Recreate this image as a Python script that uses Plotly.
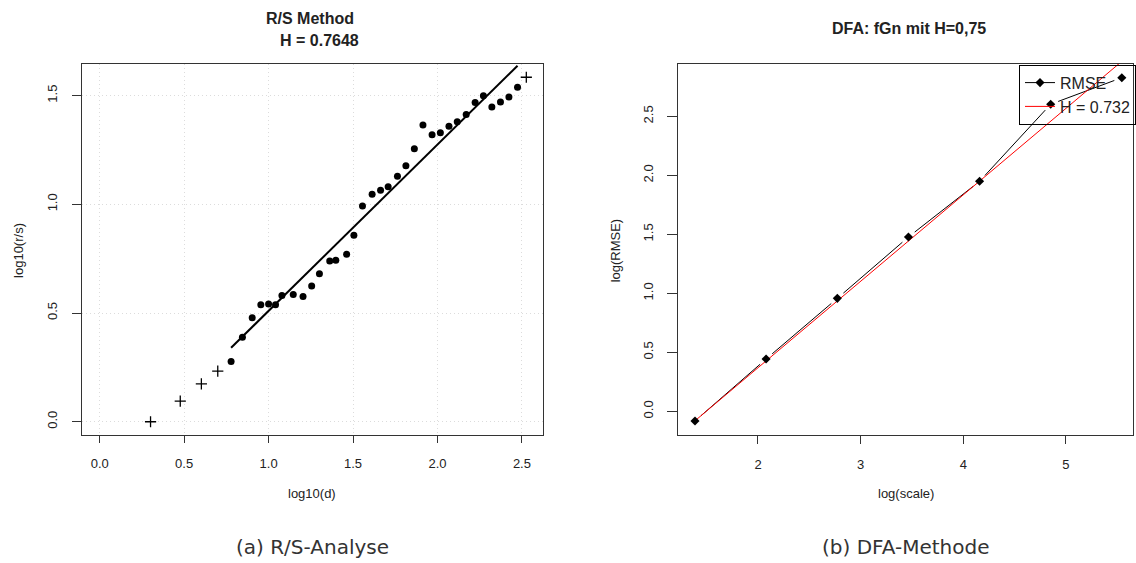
import math
import plotly.graph_objects as go

# ---------------- data: R/S analysis ----------------
rs_cross_x = [0.301, 0.477, 0.602, 0.699, 2.526]
rs_cross_y = [0.0, 0.095, 0.174, 0.233, 1.584]
rs_dot_x = [0.778, 0.845, 0.903, 0.954, 1.000, 1.041, 1.079, 1.146, 1.204, 1.255,
            1.301, 1.362, 1.398, 1.462, 1.505, 1.556, 1.613, 1.663, 1.708, 1.763,
            1.813, 1.863, 1.914, 1.968, 2.017, 2.068, 2.117, 2.170, 2.223, 2.272,
            2.322, 2.373, 2.423, 2.474]
rs_dot_y = [0.277, 0.389, 0.478, 0.538, 0.541, 0.538, 0.581, 0.585, 0.576, 0.624,
            0.680, 0.739, 0.742, 0.770, 0.857, 0.992, 1.046, 1.065, 1.081, 1.129,
            1.177, 1.255, 1.364, 1.320, 1.329, 1.359, 1.379, 1.413, 1.468, 1.499,
            1.447, 1.470, 1.493, 1.538]
rs_H = 0.7648
rs_intercept = -0.255

# ---------------- data: DFA ----------------
dfa_x = [1.386, 2.079, 2.773, 3.466, 4.159, 4.852, 5.545]
dfa_y = [-0.082, 0.443, 0.957, 1.477, 1.949, 2.602, 2.827]
dfa_H = 0.7325
dfa_intercept = -1.096

# ---------------- layout geometry ----------------
W, H = 1136, 563
L_X0, L_X1 = 82.7, 544.3
R_X0, R_X1 = 680.0, 1136.0
P_Y0, P_Y1 = 64.0, 435.0   # top, bottom pixel
L_XR = [-0.102, 2.624]
L_YR = [-0.061, 1.645]
R_XR = [1.2225, 5.654]
R_YR = [-0.201, 2.943]
FONT = "Liberation Sans, Arial, Helvetica, sans-serif"
AX = "#333333"

def px(x):
    return x / W

def py(y):
    return 1 - y / H

def gapped(xs, ys, xr, yr, wpx, hpx, gap):
    sx = wpx / (xr[1] - xr[0])
    sy = hpx / (yr[1] - yr[0])
    ox, oy = [], []
    for i in range(len(xs) - 1):
        dx = (xs[i + 1] - xs[i]) * sx
        dy = (ys[i + 1] - ys[i]) * sy
        d = math.hypot(dx, dy)
        f = gap / d if d > 0 else 0
        if f >= 0.5:
            continue
        ox += [xs[i] + f * (xs[i + 1] - xs[i]), xs[i + 1] - f * (xs[i + 1] - xs[i]), None]
        oy += [ys[i] + f * (ys[i + 1] - ys[i]), ys[i + 1] - f * (ys[i + 1] - ys[i]), None]
    return ox, oy

fig = go.Figure()

# left plot
fig.add_trace(go.Scatter(
    x=rs_cross_x, y=rs_cross_y, mode="markers", xaxis="x", yaxis="y",
    marker=dict(symbol="cross-thin", size=8, line=dict(color="black", width=1.3)),
    showlegend=False))
fig.add_trace(go.Scatter(
    x=rs_dot_x, y=rs_dot_y, mode="markers", xaxis="x", yaxis="y",
    marker=dict(symbol="circle", size=7, color="black"),
    showlegend=False))
fit_x = [rs_dot_x[0], rs_dot_x[-1]]
fig.add_trace(go.Scatter(
    x=fit_x, y=[rs_H * v + rs_intercept for v in fit_x], mode="lines",
    xaxis="x", yaxis="y", line=dict(color="black", width=2), showlegend=False))

# right plot
gx, gy = gapped(dfa_x, dfa_y, R_XR, R_YR, R_X1 - R_X0, P_Y1 - P_Y0, 8)
fig.add_trace(go.Scatter(
    x=gx, y=gy, mode="lines", xaxis="x2", yaxis="y2",
    line=dict(color="black", width=1), showlegend=False))
fig.add_trace(go.Scatter(
    x=dfa_x, y=[dfa_H * v + dfa_intercept for v in dfa_x], mode="lines",
    xaxis="x2", yaxis="y2", line=dict(color="red", width=1), showlegend=False))
fig.add_trace(go.Scatter(
    x=dfa_x, y=dfa_y, mode="markers", xaxis="x2", yaxis="y2",
    marker=dict(symbol="diamond", size=7, color="black"), showlegend=False))
# legend entries
fig.add_trace(go.Scatter(
    x=[None], y=[None], mode="lines+markers", xaxis="x2", yaxis="y2", name="RMSE",
    line=dict(color="black", width=1), marker=dict(symbol="diamond", size=7, color="black")))
fig.add_trace(go.Scatter(
    x=[None], y=[None], mode="lines", xaxis="x2", yaxis="y2", name="H = 0.732",
    line=dict(color="red", width=1)))

axis_common = dict(
    showline=True, mirror=True, linecolor=AX, linewidth=1,
    ticks="outside", tickcolor=AX, zeroline=False,
    tickfont=dict(family=FONT, size=13, color="#222222"),
)

fig.update_layout(
    width=W, height=H, margin=dict(l=0, r=0, t=0, b=0),
    paper_bgcolor="white", plot_bgcolor="white",
    font=dict(family=FONT, color="#222222"),
    xaxis=dict(domain=[px(L_X0), px(L_X1)], range=L_XR, anchor="y",
               tickmode="array", tickvals=[0, 0.5, 1, 1.5, 2, 2.5],
               ticktext=["0.0", "0.5", "1.0", "1.5", "2.0", "2.5"],
               ticklen=7, ticklabelstandoff=9,
               showgrid=True, gridcolor="#dcdcdc", griddash="1px,3px", gridwidth=1,
               **axis_common),
    yaxis=dict(domain=[py(P_Y1), py(P_Y0)], range=L_YR, anchor="x",
               tickmode="array", tickvals=[0, 0.5, 1, 1.5],
               ticktext=["0.0", "0.5", "1.0", "1.5"], tickangle=-90,
               ticklen=9, ticklabelstandoff=10,
               showgrid=True, gridcolor="#dcdcdc", griddash="1px,3px", gridwidth=1,
               **axis_common),
    xaxis2=dict(domain=[px(R_X0), px(R_X1)], range=R_XR, anchor="y2",
                tickmode="array", tickvals=[2, 3, 4, 5], ticktext=["2", "3", "4", "5"],
                ticklen=8, ticklabelstandoff=9, showgrid=False, **axis_common),
    yaxis2=dict(domain=[py(P_Y1), py(P_Y0)], range=R_YR, anchor="x2",
                tickmode="array", tickvals=[0, 0.5, 1, 1.5, 2, 2.5],
                ticktext=["0.0", "0.5", "1.0", "1.5", "2.0", "2.5"], tickangle=-90,
                ticklen=10, ticklabelstandoff=9, showgrid=False, **axis_common),
    legend=dict(x=px(1021.7), y=py(64.7), xanchor="left", yanchor="top",
                bgcolor="rgba(255,255,255,0)", bordercolor="black", borderwidth=1,
                font=dict(family=FONT, size=16, color="#222222"),
                itemwidth=30, tracegroupgap=0),
)

ann = []
def text(x, y, s, size=13, bold=False, angle=0, family=FONT, color="#222222"):
    ann.append(dict(x=px(x), y=py(y), xref="paper", yref="paper", text=s,
                    showarrow=False, xanchor="center", yanchor="middle",
                    textangle=angle,
                    font=dict(family=family, size=size, color=color,
                              weight="bold" if bold else "normal")))

text(311, 18, "R/S Method", size=16, bold=True)
text(320, 40, "H = 0.7648", size=16, bold=True)
text(911, 29, "DFA: fGn mit H=0,75", size=16, bold=True)
text(313, 493, "log10(d)")
text(908, 493, "log(scale)")
text(18, 250, "log10(r/s)", angle=-90)
text(617, 250, "log(RMSE)", angle=-90)
text(313, 547, "(a) R/S-Analyse", size=20, family="DejaVu Sans, sans-serif", color="#333333")
text(908, 547, "(b) DFA-Methode", size=20, family="DejaVu Sans, sans-serif", color="#333333")
fig.update_layout(annotations=ann)

fig.write_html("out.html", config={"displayModeBar": False},
               post_script="document.body.style.margin='0px';document.body.style.overflow='hidden';")
